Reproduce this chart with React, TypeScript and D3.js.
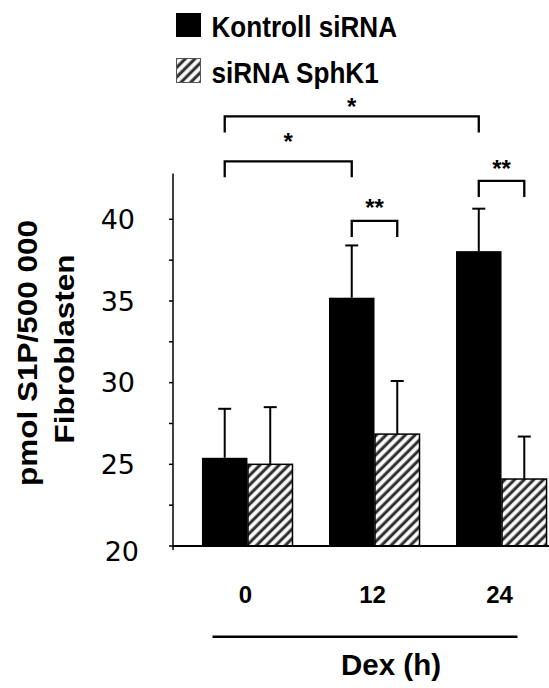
import React from "react";
import * as d3 from "d3";

// Dex treatment time points (h) and the two siRNA groups
const times = ["0", "12", "24"];
const series = ["Kontroll siRNA", "siRNA SphK1"];

// pmol S1P / 500 000 fibroblasts, mean and SD
const kontrollMean = [25.4, 35.2, 38.05];
const kontrollErr = [3.0, 3.2, 2.6];
const sphk1Mean = [25.0, 26.85, 24.1];
const sphk1Err = [3.5, 3.25, 2.6];

const yTicks = [20, 22.5, 25, 27.5, 30, 32.5, 35, 37.5, 40];
const yTickLabels = [20, 25, 30, 35, 40];

// significance brackets: [time, series index] -> [time, series index]
const sigFrom = [["0", 0], ["0", 0], ["12", 0], ["24", 0]];
const sigTo = [["24", 0], ["12", 0], ["12", 1], ["24", 1]];
const sigLevel = [46.3, 43.55, 39.9, 42.35];
const sigLabel = ["*", "*", "**", "**"];
const sigLabelAt = [47.25, 45.1, 41.05, 43.45];

const W = 549;
const H = 688;
const bold = "'Liberation Sans', Arial, Helvetica, sans-serif";

const App = () => {
  const x = d3.scaleBand().domain(times).range([173, 576]).paddingInner(0.2835).paddingOuter(0.228);
  const xs = d3.scaleBand().domain(["0", "1"]).range([0, x.bandwidth()]);
  const y = d3.scaleLinear().domain([20, 40]).range([546, 219.3]);
  const axisX = 173;

  const rows = times.map((t, i) => [
    { t, s: 0, v: kontrollMean[i], e: kontrollErr[i] },
    { t, s: 1, v: sphk1Mean[i], e: sphk1Err[i] },
  ]).flat();

  const cx = (t, s) => (x(t) || 0) + (xs(String(s)) || 0) + xs.bandwidth() / 2;

  return (
    <svg width={W} height={H} style={{ position: "absolute", left: 0, top: 0, background: "#fff" }}>
      <defs>
        <pattern id="hatch" patternUnits="userSpaceOnUse" width="6.8" height="6.8" patternTransform="rotate(45)">
          <rect x="0" y="0" width="6.8" height="6.8" fill="#fff" />
          <rect x="0.6" y="0" width="4" height="6.8" fill="#777" opacity="0.5" />
          <rect x="1.3" y="0" width="2.6" height="6.8" fill="#2b2b2b" />
        </pattern>
      </defs>

      {/* legend */}
      <rect x={176} y={13} width={25} height={24} fill="#000" />
      <text transform="translate(211.5,36.5) scale(0.9,1)" fontFamily={bold} fontWeight="bold" fontSize={29}>
        {series[0]}
      </text>
      <rect x={176.5} y={58.5} width={24} height={24} fill="url(#hatch)" stroke="#555" strokeWidth={1} />
      <text transform="translate(211.5,82.5) scale(0.9,1)" fontFamily={bold} fontWeight="bold" fontSize={29}>
        {series[1]}
      </text>

      {/* bars */}
      {rows.map((d, i) => {
        const x0 = (x(d.t) || 0) + (xs(String(d.s)) || 0);
        return d.s === 0 ? (
          <rect key={i} x={x0} y={y(d.v)} width={xs.bandwidth()} height={y(20) - y(d.v)} fill="#000" />
        ) : (
          <rect key={i} x={x0 + 0.5} y={y(d.v)} width={xs.bandwidth() - 1} height={y(20) - y(d.v)}
            fill="url(#hatch)" stroke="#000" strokeWidth={1.5} />
        );
      })}

      {/* error bars */}
      {rows.map((d, i) => {
        const c = cx(d.t, d.s);
        return (
          <g key={i} stroke="#000" strokeWidth={2}>
            <line x1={c} x2={c} y1={y(d.v)} y2={y(d.v + d.e)} />
            <line x1={c - 6.5} x2={c + 6.5} y1={y(d.v + d.e)} y2={y(d.v + d.e)} />
          </g>
        );
      })}

      {/* y axis */}
      <line x1={axisX} x2={axisX} y1={y(42.8)} y2={y(20) + 4} stroke="#000" strokeWidth={1.5} />
      {yTicks.map((t) => (
        <line key={t} x1={axisX - 4} x2={axisX} y1={y(t)} y2={y(t)} stroke="#000" strokeWidth={1.5} />
      ))}
      {yTickLabels.map((t, i) => (
        <text key={t} x={135 + (i === 0 ? 4 : 0)} y={y(t) + (i === 0 ? 5 : 0)} dy="0.36em" textAnchor="end"
          fontFamily="'DejaVu Sans', Verdana, sans-serif" fontSize={27}>
          {t}
        </text>
      ))}
      <line x1={axisX} x2={W} y1={y(20)} y2={y(20)} stroke="#000" strokeWidth={2} />

      {/* y axis title */}
      <g fontFamily={bold} fontWeight="bold" fontSize={31.5} textAnchor="middle">
        <text transform="translate(36.5,353) scale(0.9,1) rotate(-90)">pmol S1P/500 000</text>
        <text transform="translate(74,349) scale(0.9,1) rotate(-90)">Fibroblasten</text>
      </g>

      {/* x labels */}
      {times.map((t) => (
        <text key={t} x={(x(t) || 0) + x.bandwidth() / 2 - 2} y={603} textAnchor="middle"
          fontFamily={bold} fontWeight="bold" fontSize={24}>
          {t}
        </text>
      ))}
      <line x1={212.5} x2={517.5} y1={636.7} y2={636.7} stroke="#000" strokeWidth={2.5} />
      <text x={391} y={675} textAnchor="middle" fontFamily={bold} fontWeight="bold" fontSize={29.5}>
        Dex (h)
      </text>

      {/* significance brackets */}
      {sigLevel.map((lv, i) => {
        const a = cx(sigFrom[i][0], sigFrom[i][1]);
        const b = cx(sigTo[i][0], sigTo[i][1]);
        const top = y(lv);
        return (
          <g key={i}>
            <path d={`M${a},${top + 16}V${top}H${b}V${top + 16}`} fill="none" stroke="#000" strokeWidth={2.3} />
            <text x={(a + b) / 2} y={y(sigLabelAt[i]) + 13.7} textAnchor="middle"
              fontFamily={bold} fontWeight="bold" fontSize={24}>
              {sigLabel[i]}
            </text>
          </g>
        );
      })}
    </svg>
  );
};

export default App;
